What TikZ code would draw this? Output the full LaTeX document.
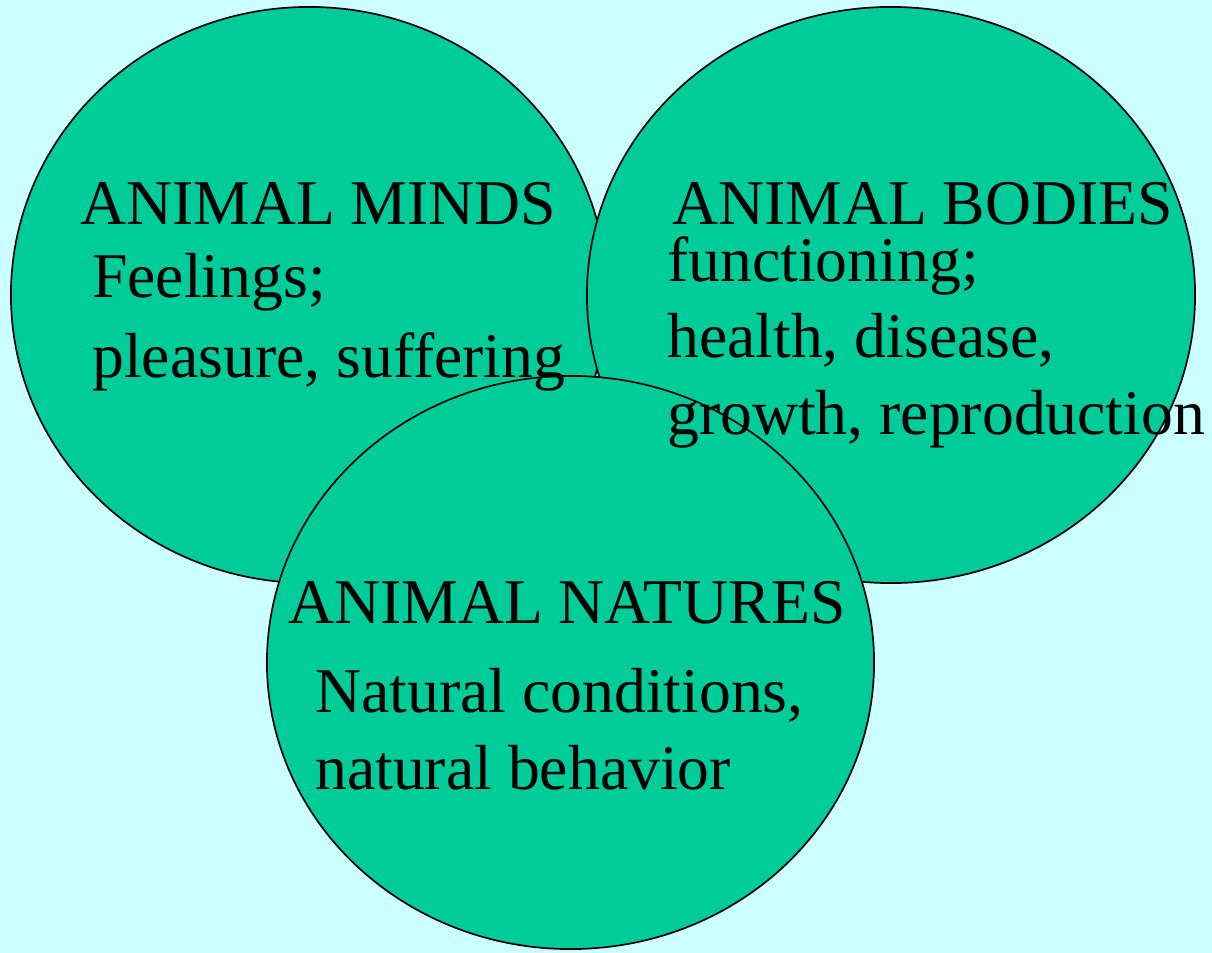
\documentclass[tikz,border=0pt]{standalone}
\usepackage{fontspec}
\setmainfont{Liberation Serif}
\usetikzlibrary{shapes.geometric}
\definecolor{skyback}{HTML}{CCFFFF}
\definecolor{seagreen}{HTML}{00CC99}
\tikzset{
  blob/.style={draw, ellipse, fill=seagreen, line width=1.2pt, inner sep=0pt},
  label/.style={anchor=base west, inner sep=0pt, font=\fontsize{45.3}{54}\selectfont}
}
\begin{document}
\begin{tikzpicture}[x=0.025cm, y=-0.025cm]
% Background
\fill[skyback] (0,0) rectangle (1212,953);
\useasboundingbox (0,0) rectangle (1212,953);

% Circles
\node[blob, minimum width=14.9cm, minimum height=14.4cm] (minds) at (309,295) {};
\node[blob, minimum width=15.2cm, minimum height=14.4cm] (bodies) at (891,295) {};
\node[blob, minimum width=15.175cm, minimum height=14.325cm] (natures) at (570.5,662.5) {};

% Texts
\node[label] (mindstitle) at (80,224) {ANIMAL MINDS};
\node[label] (feelings) at (92,297) {Feelings;};
\node[label] (pleasure) at (92,377) {pleasure, suffering};
\node[label] (bodiestitle) at (672,224) {ANIMAL BODIES};
\node[label] (functioning) at (667,281) {functioning;};
\node[label] (health) at (667,357) {health, disease,};
\node[label] (growth) at (667,434) {growth, reproduction};
\node[label] (naturestitle) at (288,623) {ANIMAL NATURES};
\node[label] (conditions) at (315,712) {Natural conditions,};
\node[label] (behavior) at (315,789) {natural behavior};
\end{tikzpicture}
\end{document}
